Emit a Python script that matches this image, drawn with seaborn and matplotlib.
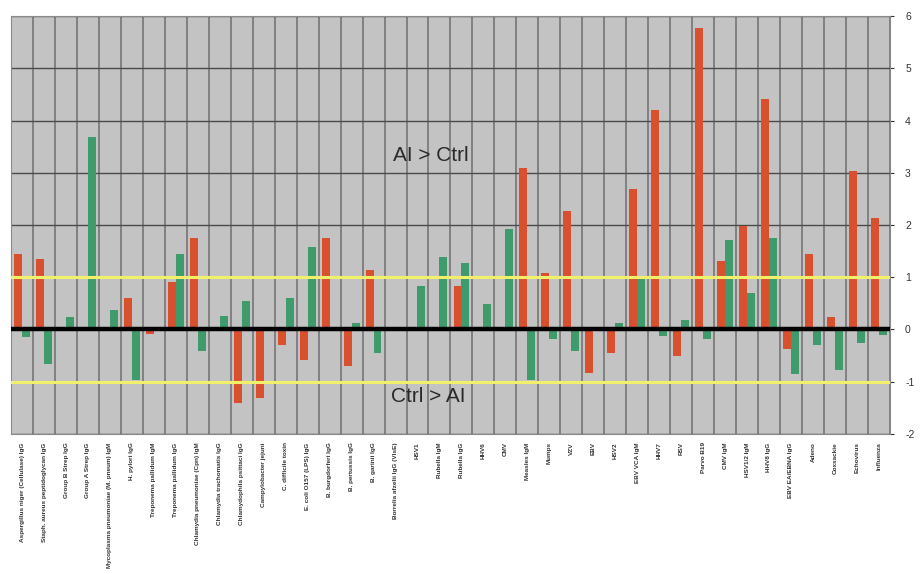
import numpy as np
import pandas as pd
import matplotlib
matplotlib.use("Agg")
import matplotlib.pyplot as plt
from matplotlib.ticker import FixedLocator
import seaborn as sns

# labels are too blurry in the source to read exactly; best guesses
pathogens = [
    "Aspergillus niger (Cellulase) IgG", "Staph. aureus peptidoglycan IgG",
    "Group B Strep IgG", "Group A Strep IgG",
    "Mycoplasma pneumoniae (M. pneum) IgM", "H. pylori IgG",
    "Treponema pallidum IgM", "Treponema pallidum IgG",
    "Chlamydia pneumoniae (Cpn) IgM", "Chlamydia trachomatis IgG",
    "Chlamydophila psittaci IgG", "Campylobacter jejuni",
    "C. difficile toxin", "E. coli O157 (LPS) IgG",
    "B. burgdorferi IgG", "B. pertussis IgG", "B. garinii IgG",
    "Borrelia afzelii IgG (VlsE)", "HSV1", "Rubella IgM", "Rubella IgG",
    "HHV6", "CMV", "Measles IgM", "Mumps", "VZV", "EBV", "HSV2",
    "EBV VCA IgM", "HHV7", "RSV", "Parvo B19", "CMV IgM",
    "HSV1/2 IgM", "HHV8 IgG", "EBV EA/EBNA IgG", "Adeno",
    "Coxsackie", "Echovirus", "Influenza",
]
series_a = [1.44, 1.35, 0.0, 0.02, 0.05, 0.61, -0.08, 0.90, 1.75, 0.0,
            -1.41, -1.31, -0.29, -0.58, 1.76, -0.70, 1.13, 0.02, 0.0, 0.0,
            0.83, 0.0, 0.0, 3.10, 1.09, 2.27, -0.83, -0.45, 2.68, 4.21,
            -0.51, 5.78, 1.31, 1.99, 4.41, -0.38, 1.44, 0.23, 3.03, 2.14]
series_b = [-0.15, -0.67, 0.23, 3.68, 0.38, -0.96, -0.03, 1.44, -0.42, 0.25,
            0.54, 0.0, 0.61, 1.57, 0.0, 0.13, -0.45, 0.03, 0.84, 1.39,
            1.28, 0.48, 1.92, -0.96, -0.19, -0.41, 0.0, 0.13, 0.96, -0.13,
            0.19, -0.19, 1.72, 0.70, 1.76, -0.86, -0.29, -0.77, -0.25, -0.10]
y_ticks = [-2, -1, 0, 1, 2, 3, 4, 5, 6]

df = pd.DataFrame({
    "pathogen": pathogens * 2,
    "value": series_a + series_b,
    "series": ["A"] * len(pathogens) + ["B"] * len(pathogens),
})

plt.rcParams["font.family"] = ["Liberation Sans", "DejaVu Sans"]
plt.rcParams["axes.unicode_minus"] = False

fig = plt.figure(figsize=(9.24, 5.74), dpi=100)
ax = fig.add_axes([0.012, 0.244, 0.951, 0.728])
ax.set_facecolor("#c3c3c3")

sns.barplot(data=df, x="pathogen", y="value", hue="series",
            palette=["#d9502e", "#3f9a6c"], saturation=1, width=0.72,
            gap=0, legend=False, ax=ax, zorder=3)

ax.set_xlim(-0.5, len(pathogens) - 0.5)
ax.set_ylim(-2, 6)

# vertical grid between categories, horizontal grid at integers
ax.xaxis.set_minor_locator(FixedLocator(np.arange(-0.5, len(pathogens), 1)))
ax.grid(which="minor", axis="x", color="#767676", lw=1.2, zorder=1)
ax.set_yticks(y_ticks)
ax.grid(which="major", axis="y", color="#4a4a4a", lw=1.0, zorder=1)
ax.grid(which="major", axis="x", visible=False)

ax.axhline(1, color="#f2ef6a", lw=2.2, zorder=4)
ax.axhline(-1, color="#f2ef6a", lw=2.2, zorder=4)
ax.axhline(0, color="black", lw=3.2, zorder=5)

ax.text(18.6, 3.33, "AI > Ctrl", ha="center", va="center", fontsize=15,
        color="#2a2a2a", zorder=6)
ax.text(18.5, -1.28, "Ctrl > AI", ha="center", va="center", fontsize=15,
        color="#2a2a2a", zorder=6)

ax.yaxis.tick_right()
ax.tick_params(axis="y", which="both", length=3, labelsize=7.5,
               colors="#333333", pad=8)
ax.tick_params(axis="x", which="both", length=0, labelsize=4.6, pad=6)
ax.set_xticks(range(len(pathogens)))
ax.set_xticklabels(pathogens, rotation=90, color="#333333",
                   fontweight="bold")
ax.set_xlabel("")
ax.set_ylabel("")
for s in ax.spines.values():
    s.set_color("#8a8a8a")

fig.savefig("out.png", dpi=100)
